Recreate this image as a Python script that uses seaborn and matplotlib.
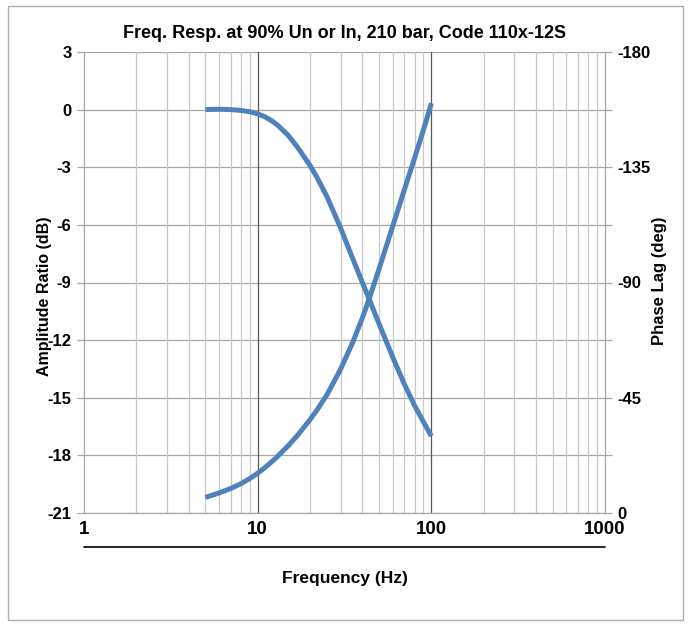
import matplotlib
matplotlib.use("Agg")
import matplotlib.pyplot as plt
import seaborn as sns
import pandas as pd
from matplotlib.ticker import FixedLocator, NullFormatter
from matplotlib.patches import Rectangle
from matplotlib.lines import Line2D

# ---- data ----
freq_hz = [5, 6, 7, 8, 9, 10, 11, 12, 13, 15, 17, 20, 22, 25, 30, 35, 40, 44,
           50, 60, 70, 80, 90, 100]
amplitude_db = [0.0, 0.02, 0.0, -0.04, -0.11, -0.22, -0.37, -0.57, -0.8, -1.34,
                -1.97, -2.9, -3.54, -4.51, -6.15, -7.68, -8.98, -9.9,
                -11.15, -12.9, -14.3, -15.4, -16.25, -17.0]
phase_deg = [-6.1, -7.84, -9.58, -11.44, -13.43, -15.53, -17.7, -19.9, -22.05, -26.3,
             -30.4, -36.4, -40.3, -46.0, -56.1, -66.1, -76.0, -83.9,
             -95.3, -112.1, -126.3, -138.5, -149.5, -160.0]
x_ticks = [1, 10, 100, 1000]
x_ticklabels = ["1", "10", "100", "1000"]
amp_ticks = [3, 0, -3, -6, -9, -12, -15, -18, -21]
phase_ticks = [-180, -135, -90, -45, 0]

title = "Freq. Resp. at 90% Un or In, 210 bar, Code 110x-12S"

df = pd.DataFrame({"f": freq_hz, "amp": amplitude_db, "phase": phase_deg})

sns.set_style("white")
plt.rcParams["font.family"] = ["Liberation Sans", "DejaVu Sans"]
plt.rcParams["font.weight"] = "bold"
for key in ("text.color", "axes.labelcolor", "xtick.labelcolor", "ytick.labelcolor"):
    plt.rcParams[key] = "black"

W, H = 691, 627
fig = plt.figure(figsize=(W / 100, H / 100), dpi=100)
ax = fig.add_axes([84 / W, 1 - 513 / H, (605 - 84) / W, (513 - 52) / H])
ax2 = ax.twinx()

line_color = "#4f81bd"
sns.lineplot(data=df, x="f", y="amp", ax=ax, color=line_color, linewidth=3.6,
             solid_capstyle="butt", legend=False)
sns.lineplot(data=df, x="f", y="phase", ax=ax2, color=line_color, linewidth=3.6,
             solid_capstyle="butt", legend=False)

ax.set_xscale("log")
ax.set_xlim(1, 1000)
ax.set_ylim(-21, 3)
ax2.set_ylim(0, -180)

# gridlines
for v in amp_ticks:
    ax.axhline(v, color="#a6a6a6", lw=0.9, zorder=0)
for dec in [1, 10, 100]:
    for k in range(2, 10):
        ax.axvline(dec * k, color="#c8c8c8", lw=0.9, zorder=0)
for v in [10, 100]:
    ax.axvline(v, color="#5a5a5a", lw=0.9, zorder=0)

ax.xaxis.set_major_locator(FixedLocator(x_ticks))
ax.set_xticklabels(x_ticklabels)
ax.xaxis.set_minor_locator(FixedLocator([]))
ax.xaxis.set_minor_formatter(NullFormatter())
ax.set_yticks(amp_ticks)
ax.set_yticklabels([str(t) for t in amp_ticks])
ax2.set_yticks(phase_ticks)
ax2.set_yticklabels([str(t) for t in phase_ticks])
ax2.yaxis.set_minor_locator(FixedLocator([-157.5, -112.5, -67.5, -22.5]))

ax.tick_params(axis="x", length=0, pad=6, labelsize=13.5, labelcolor="black")
ax.tick_params(axis="y", length=5, color="#a6a6a6", width=0.9, pad=4, labelsize=12,
               labelcolor="black")
ax2.tick_params(axis="y", which="both", length=5, color="#a6a6a6", width=0.9, pad=4,
                labelsize=12, labelcolor="black")

for a in (ax, ax2):
    for s in a.spines.values():
        s.set_visible(False)
ax.spines["left"].set_visible(True)
ax.spines["left"].set_color("#a6a6a6")
ax.spines["bottom"].set_visible(True)
ax.spines["bottom"].set_color("#a6a6a6")
ax2.spines["right"].set_visible(True)
ax2.spines["right"].set_color("#a6a6a6")
for s in ("left", "bottom"):
    ax.spines[s].set_linewidth(0.9)
ax2.spines["right"].set_linewidth(0.9)

ax.set_xlabel("")
ax.set_ylabel("Amplitude Ratio (dB)", fontsize=11.5, fontweight="bold", color="black")
ax.yaxis.set_label_coords((52 - 84) / (605 - 84), (513 - 296) / (513 - 52))
ax2.set_ylabel("Phase Lag (deg)", fontsize=12, fontweight="bold", color="black")
ax2.yaxis.set_label_coords((652 - 84) / (605 - 84), (513 - 281) / (513 - 52))

fig.text((84 + 605) / 2 / W, 1 - 578 / H, "Frequency (Hz)", ha="center", va="center",
         fontsize=12.5, fontweight="bold", color="black")
fig.text((84 + 605) / 2 / W, 1 - 33 / H, title, ha="center", va="center",
         fontsize=13, fontweight="bold", color="black")

# black secondary axis line below tick labels
fig.add_artist(Line2D([84 / W, 605 / W], [1 - 547 / H, 1 - 547 / H], color="black", lw=1.2))
# outer chart border
fig.add_artist(Rectangle((8 / W, 1 - 620 / H), (683 - 8) / W, (620 - 6) / H,
                         transform=fig.transFigure, fill=False, edgecolor="#b0b0b0", lw=1.0))

fig.savefig("out.png", dpi=100)
